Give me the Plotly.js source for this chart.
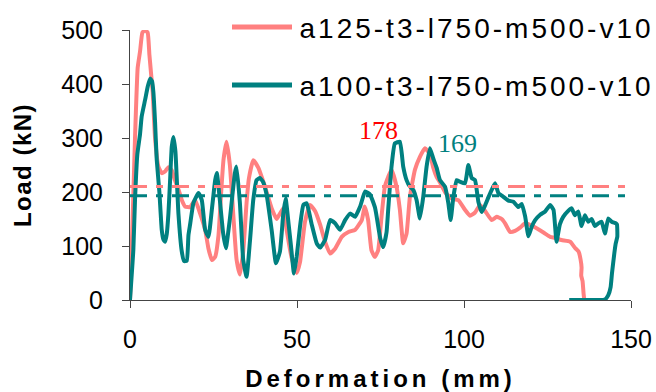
<!DOCTYPE html>
<html><head><meta charset="utf-8">
<script src="https://cdn.plot.ly/plotly-3.0.1.min.js"></script>
<style>
html,body{margin:0;padding:0;background:#fff;}
#chart{width:656px;height:392px;}
.xtitle{letter-spacing:4px;}
.ytitle{letter-spacing:1.5px;}
.annotation[data-index="2"] text,.annotation[data-index="3"] text{letter-spacing:3px;}
</style></head><body><div id="chart"></div><script>
// Series names
const seriesNames = ['a125-t3-l750-m500-v10', 'a100-t3-l750-m500-v10'];

// a125 series (mm, kN)
const pinkX = [0,0.5,1.5,2.3,3,3.7,4.5,5.3,5.8,6.3,6.8,7.5,8.5,9.5,10.5,11.5,12.5,13.5,14.5,15.5,16.5,18,19.5,21,22.5,23.5,24.5,25.5,26.5,27.3,28,28.9,29.9,30.9,31.9,32.9,33.9,34.9,35.6,36.9,38.4,40.4,42.4,43.9,44.9,45.9,46.9,48.4,49.9,50.9,52.4,53.9,55.4,56.9,58.4,59.9,61.4,63.4,65.4,67.4,69.4,70.3,71.3,72.3,73.3,74.3,75.3,76.3,77.3,78.3,79.8,80.8,81.8,82.8,83.8,85.3,86.8,88.3,89.8,90.8,91.8,92.8,94.3,96.3,98.3,100.3,101.8,103.3,104.8,106.3,108.3,109.8,111.3,112.3,113.8,115.3,116.8,118.3,120.8,123.8,125.8,127.2,129.2,131.8,133.3,134.3,134.9,135.2,135.1,135.5,135.8,136];
const pinkY = [0,90,300,430,460,495,500,495,455,420,385,300,247,235,238,246,240,221,205,185,173,172,185,160,130,95,74,80,120,200,260,293,250,160,75,47,90,180,225,259,245,210,170,150,160,170,130,78,50,70,145,176,165,140,108,86,95,117,126,130,148,173,148,92,80,92,154,210,228,241,210,167,105,123,191,241,265,281,270,245,228,218,200,188,185,167,156,162,176,165,148,154,150,142,126,128,134,142,136,125,117,115,111,108,96,90,75,60,45,35,12,0];

// a100 series (mm, kN)
const tealX = [0,1,1.5,2.2,3,3.5,4.5,5.3,6,6.6,7,7.5,8,8.8,9.5,10,10.5,11,11.5,12,12.5,13,13.6,14.5,15.5,16.2,17,17.5,18,19,20.5,21.5,22.5,23.5,24.5,25.5,26,26.9,27.9,28.7,29.9,31.4,31.9,32.9,33.9,34.9,35.9,36.9,37.9,38.9,39.9,40.9,42.4,43.7,44.9,45.9,46.6,47.5,48.2,49.1,49.9,50.9,51.9,52.9,54.4,55.9,56.9,58.4,59.9,61.4,62.9,64.4,65.9,67.4,68.9,70.4,71.9,73.4,74.9,75.8,76.8,77.3,78.3,79.3,80.8,81.8,82.8,83.8,84.8,85.8,86.8,87.8,88.8,89.8,90.8,91.8,92.8,94.3,95.3,96,96.8,97.8,98.8,100.3,101.3,102.3,103.3,104.3,105.3,106.3,107.3,108.3,109.3,110.3,111.8,113.3,114.8,116.3,117.3,118.3,119.3,120.3,121.3,122.8,124.3,125.8,126.8,127.7,128.7,129.7,131.2,132.2,133.2,134.2,135.2,136.2,137.2,138.2,139.2,140.2,141.2,142.2,143.2,144.2,145.5,145.8,145.9,145.4,145,144.3,143.9,143.2,142.2,140,136,131.5];
const tealY = [0,93,185,270,307,340,370,395,410,405,385,330,260,200,130,112,108,122,160,221,284,302,275,160,90,72,73,120,140,180,198,185,130,117,167,222,235,185,123,96,150,235,247,180,74,43,108,185,222,226,218,195,130,68,90,160,188,140,100,49,80,136,176,179,140,105,97,111,148,142,130,148,160,154,173,201,195,170,115,98,125,167,247,290,293,247,222,210,204,185,151,191,247,281,262,245,222,210,180,148,190,222,219,216,250,226,222,182,163,175,190,204,216,198,191,184,182,172,178,155,118,136,148,158,164,176,167,108,140,154,165,170,157,164,137,157,145,150,137,142,145,123,151,145,142,140,117,104,86,49,24,9,1,0,0,0];

// Average load levels (kN) and their x-extent (mm)
const avgLevels = [210, 193];
const avgExtent = [0, 150];

// Peak labels
const peakLabels = ['178', '169'];

const pinkColor = '#FF8080';
const tealColor = '#008080';

const traces = [
  {x: pinkX, y: pinkY, mode: 'lines', name: seriesNames[0], line: {color: pinkColor, width: 4, shape: 'spline', smoothing: 0.4}, showlegend: false},
  {x: tealX, y: tealY, mode: 'lines', name: seriesNames[1], line: {color: tealColor, width: 4, shape: 'spline', smoothing: 0.4}, showlegend: false},
  {x: avgExtent, y: [avgLevels[0], avgLevels[0]], mode: 'lines', line: {color: pinkColor, width: 3, dash: '17px,9px,7px,9px'}, showlegend: false},
  {x: avgExtent, y: [avgLevels[1], avgLevels[1]], mode: 'lines', line: {color: tealColor, width: 3, dash: '17px,9px,7px,9px'}, showlegend: false}
];

const W = 501, H = 270;
function px2paperX(p) { return (p - 130) / W; }
function px2paperY(p) { return (300 - p) / H; }

const layout = {
  width: 656, height: 392,
  margin: {l: 130, r: 25, t: 30, b: 92},
  paper_bgcolor: '#fff', plot_bgcolor: '#fff',
  showlegend: false,
  font: {family: 'Liberation Sans, Arial, sans-serif', color: '#000'},
  xaxis: {
    range: [0, 150], tickvals: [0, 50, 100, 150], ticktext: ['0', '50', '100', '150'],
    showgrid: false, zeroline: false, showline: true, linecolor: '#444', linewidth: 1,
    ticks: 'outside', ticklen: 7, tickcolor: '#444', tickfont: {size: 25, color: '#000'},
    ticklabelstandoff: 10,
    title: {text: 'Deformation (mm)', font: {size: 24, color: '#000', weight: 'bold'}, standoff: 18},
    fixedrange: true
  },
  yaxis: {
    range: [0, 500], tickvals: [0, 100, 200, 300, 400, 500],
    showgrid: false, zeroline: false, showline: true, linecolor: '#444', linewidth: 1,
    ticks: 'outside', ticklen: 7, tickcolor: '#444', tickfont: {size: 25, color: '#000'},
    ticklabelstandoff: 14,
    title: {text: 'Load (kN)', font: {size: 24, color: '#000', weight: 'bold'}, standoff: 22},
    fixedrange: true
  },
  shapes: [
    {type: 'line', xref: 'paper', yref: 'paper', x0: px2paperX(232), x1: px2paperX(292), y0: px2paperY(27), y1: px2paperY(27), line: {color: pinkColor, width: 5}},
    {type: 'line', xref: 'paper', yref: 'paper', x0: px2paperX(232), x1: px2paperX(292), y0: px2paperY(85), y1: px2paperY(85), line: {color: tealColor, width: 5}}
  ],
  annotations: [
    {x: 74.3, y: 313, xref: 'x', yref: 'y', text: peakLabels[0], showarrow: false, font: {family: 'Liberation Serif, Times New Roman, serif', size: 26, color: '#FF0000'}},
    {x: 98.2, y: 289, xref: 'x', yref: 'y', text: peakLabels[1], showarrow: false, font: {family: 'Liberation Serif, Times New Roman, serif', size: 26, color: tealColor}},
    {x: px2paperX(329), y: px2paperY(28), xref: 'paper', yref: 'paper', xanchor: 'left', yanchor: 'middle', text: seriesNames[0], showarrow: false, font: {size: 28, color: '#000'}},
    {x: px2paperX(329), y: px2paperY(86), xref: 'paper', yref: 'paper', xanchor: 'left', yanchor: 'middle', text: seriesNames[1], showarrow: false, font: {size: 28, color: '#000'}}
  ]
};

Plotly.newPlot('chart', traces, layout, {displayModeBar: false, staticPlot: true});
</script></body></html>
